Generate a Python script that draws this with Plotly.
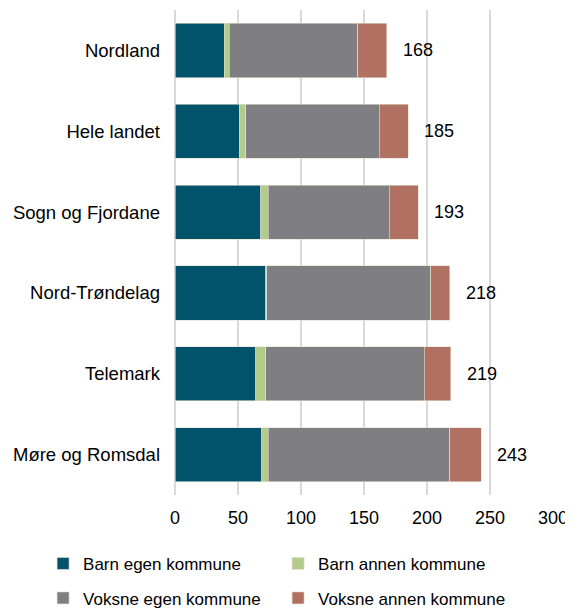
import plotly.graph_objects as go

# fylker / regioner, top to bottom as in the chart
regions = ["Nordland", "Hele landet", "Sogn og Fjordane", "Nord-Trøndelag", "Telemark", "Møre og Romsdal"]

barn_egen = [39, 51, 68, 72, 64, 69]
barn_annen = [4, 5, 6, 1, 8, 5]
voksne_egen = [102, 106, 96, 130, 126, 144]
voksne_annen = [23, 23, 23, 15, 21, 25]
totals = [168, 185, 193, 218, 219, 243]

x_ticks = [0, 50, 100, 150, 200, 250, 300]

series = [
    ("Barn egen kommune", barn_egen, "#00536B", "legend"),
    ("Barn annen kommune", barn_annen, "#B3CB8B", "legend"),
    ("Voksne egen kommune", voksne_egen, "#7F7F83", "legend2"),
    ("Voksne annen kommune", voksne_annen, "#B07062", "legend2"),
]

fig = go.Figure()
for name, vals, col, leg in series:
    fig.add_trace(go.Bar(
        y=regions, x=vals, name=name, orientation="h",
        marker=dict(color=col, line=dict(color="#E6E0CF", width=0.6)),
        legend=leg,
    ))

# total labels to the right of each bar
for r, t in zip(regions, totals):
    fig.add_annotation(x=t, y=r, text=str(t), showarrow=False,
                       xanchor="left", xshift=14, font=dict(size=18, color="#000"))

# page body has an 8px margin, so the figure is a bit smaller than the window
fig.update_layout(
    barmode="stack",
    bargap=0.33,
    width=565, height=601,
    margin=dict(l=167, r=20, t=2, b=114, autoexpand=False),
    plot_bgcolor="white", paper_bgcolor="white",
    font=dict(family="Liberation Sans, Arial", size=18, color="#000"),
    legend=dict(orientation="h", x=-0.349, xanchor="left", y=-0.105, yanchor="top",
                entrywidth=190, entrywidthmode="pixels", font=dict(size=17),
                itemwidth=30, traceorder="normal"),
    legend2=dict(orientation="h", x=-0.349, xanchor="left", y=-0.176, yanchor="top",
                 entrywidth=190, entrywidthmode="pixels", font=dict(size=17),
                 itemwidth=30, traceorder="normal"),
    showlegend=True,
)
fig.update_xaxes(range=[0, 300], tickvals=x_ticks, showgrid=True, gridcolor="#D9D9D9",
                 gridwidth=1.5, zeroline=True, zerolinecolor="#D9D9D9", zerolinewidth=1.5,
                 ticks="", showline=False, automargin=False, ticklabelstandoff=10)
fig.update_yaxes(categoryorder="array", categoryarray=regions, autorange="reversed",
                 ticks="", showline=False, ticklabelstandoff=14, automargin=False,
                 tickfont=dict(size=18.5))

fig.write_html("out.html")
